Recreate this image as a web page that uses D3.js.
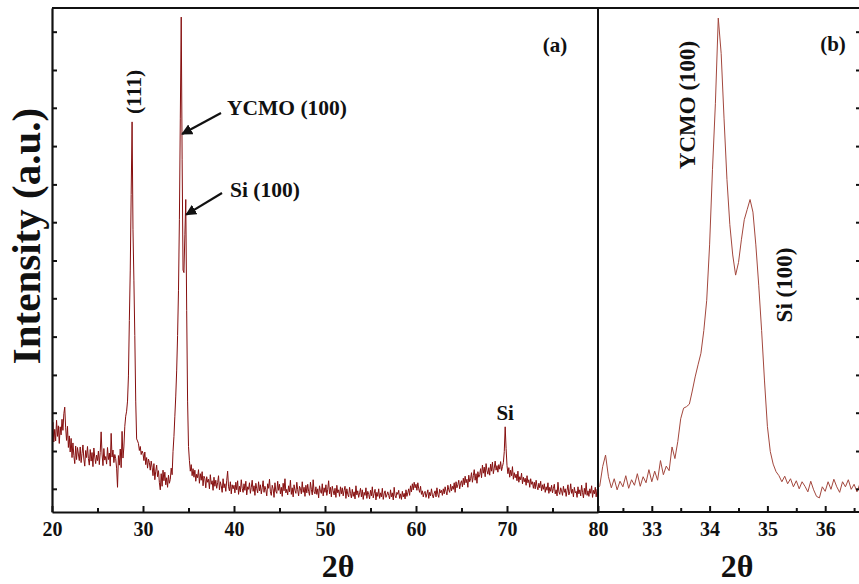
<!DOCTYPE html>
<html>
<head>
<meta charset="utf-8">
<script src="https://cdn.jsdelivr.net/npm/d3@7"></script>
<style>
  body { margin: 0; background: #fff; }
  svg { display: block; }
  text { font-family: "Liberation Serif", "Times New Roman", serif; font-weight: bold; fill: #111; }
</style>
</head>
<body>
<div id="chart"></div>
<script>
'use strict';

// panel (a): full scan, 2theta 20..80 every 0.1 deg
var scanAStart = 20, scanAStep = 0.1;
var scanACounts = [
  15.2, 17.8, 13.9, 16.4, 14.1, 18.2, 15.0, 17.1, 13.6, 16.9,
  15.3, 18.4, 16.2, 19.5, 20.8, 16.7, 14.2, 17.0, 12.8, 15.1,
  11.9, 14.6, 10.8, 13.7, 11.2, 9.6, 13.1, 10.4, 12.8, 11.5,
  10.2, 12.9, 9.8, 11.6, 13.3, 10.5, 9.1, 12.2, 10.8, 13.0,
  10.6, 9.3, 12.4, 10.1, 11.8, 9.0, 12.7, 10.9, 9.6, 11.3,
  10.2, 12.1, 9.4, 11.8, 15.9, 11.5, 9.2, 12.6, 10.3, 11.0,
  9.5, 12.8, 10.4, 11.7, 9.1, 15.6, 10.9, 12.3, 9.8, 11.4,
  10.6, 8.7, 4.9, 11.2, 9.3, 12.5, 8.8, 16.0, 10.7, 12.9,
  17.0, 19.0, 20.0, 22.0, 27.0, 38.0, 48.0, 63.0, 77.4, 56.0,
  46.0, 35.0, 22.0, 14.5, 14.1, 13.6, 12.2, 13.0, 11.4, 12.1,
  11.6, 10.2, 11.9, 9.4, 10.8, 8.7, 10.5, 9.8, 8.3, 10.1,
  8.9, 7.2, 9.6, 6.4, 8.1, 9.3, 7.0, 8.2, 5.8, 4.4,
  7.6, 5.1, 8.3, 6.2, 7.9, 5.4, 6.8, 4.9, 7.3, 5.7,
  6.5, 8.7, 7.4, 12.0, 15.0, 19.0, 23.0, 28.0, 35.0, 44.0,
  58.0, 78.0, 98.2, 70.0, 48.0, 47.5, 55.0, 62.0, 40.0, 22.0,
  13.0, 10.2, 8.1, 9.4, 7.2, 8.6, 6.9, 8.3, 6.1, 7.5,
  6.8, 8.4, 5.7, 7.6, 6.3, 8.0, 5.2, 7.1, 6.6, 4.8,
  7.0, 5.9, 6.5, 4.6, 7.4, 5.5, 6.2, 4.3, 6.9, 5.1,
  6.3, 4.7, 5.8, 7.2, 4.4, 6.0, 5.2, 3.9, 6.6, 4.8,
  5.6, 4.1, 6.3, 8.1, 5.0, 4.2, 6.0, 3.6, 5.4, 4.6,
  5.3, 3.8, 5.9, 4.4, 6.2, 3.5, 5.1, 4.0, 6.4, 4.7,
  3.9, 5.6, 4.3, 6.1, 3.4, 5.0, 4.5, 5.8, 3.7, 4.9,
  6.3, 4.1, 5.2, 3.3, 5.7, 4.6, 3.8, 6.0, 4.2, 5.4,
  3.6, 4.8, 6.2, 3.9, 5.1, 4.4, 3.2, 5.6, 4.7, 6.5,
  4.0, 3.3, 5.3, 4.6, 2.9, 5.8, 4.1, 3.7, 6.1, 4.3,
  5.5, 3.6, 4.9, 3.1, 5.7, 4.2, 6.6, 3.8, 4.5, 3.4,
  5.2, 4.0, 6.3, 3.5, 4.8, 3.0, 5.4, 4.3, 3.7, 5.9,
  4.4, 3.2, 5.1, 4.7, 3.6, 6.0, 3.9, 4.9, 3.1, 5.3,
  3.8, 5.5, 4.1, 3.3, 5.9, 4.5, 3.4, 6.4, 4.0, 3.6,
  5.0, 3.5, 4.6, 2.8, 5.2, 4.1, 3.7, 5.6, 3.2, 4.8,
  3.9, 5.4, 3.3, 4.5, 6.2, 3.6, 4.9, 3.0, 5.1, 4.2,
  3.4, 4.7, 2.9, 5.3, 3.8, 4.4, 3.1, 5.0, 3.6, 4.8,
  3.2, 4.3, 5.1, 2.7, 4.6, 3.5, 3.0, 4.9, 3.7, 2.8,
  4.5, 3.1, 4.0, 2.6, 5.2, 3.4, 4.2, 2.9, 3.8, 4.7,
  3.0, 4.4, 2.5, 3.9, 3.3, 4.8, 2.7, 4.1, 3.5, 2.6,
  4.3, 3.2, 5.0, 2.8, 3.7, 4.5, 2.4, 3.9, 3.1, 4.6,
  2.7, 3.8, 3.0, 4.7, 2.5, 3.6, 4.2, 2.9, 3.4, 4.0,
  3.3, 2.6, 4.4, 3.0, 3.8, 2.4, 4.9, 3.2, 2.8, 3.9,
  3.5, 4.3, 2.7, 3.6, 2.5, 4.1, 3.0, 3.7, 2.6, 4.4,
  3.1, 3.8, 4.6, 3.3, 5.2, 4.0, 5.6, 4.4, 5.9, 4.8,
  5.5, 4.3, 5.8, 4.6, 3.9, 5.1, 3.5, 4.2, 3.0, 3.8,
  4.1, 2.9, 3.6, 4.4, 2.7, 3.9, 3.2, 4.6, 3.4, 2.8,
  3.7, 4.2, 3.0, 4.8, 3.5, 2.9, 4.5, 3.8, 4.3, 3.3,
  4.6, 3.6, 5.0, 4.1, 3.4, 5.3, 4.4, 3.9, 5.5, 4.2,
  5.1, 4.5, 5.8, 3.9, 6.0, 4.8, 5.4, 6.3, 4.6, 5.7,
  6.2, 5.0, 6.7, 5.4, 7.1, 5.8, 6.5, 4.9, 7.3, 6.0,
  6.6, 7.8, 5.9, 7.2, 8.4, 6.3, 7.6, 5.7, 8.0, 6.9,
  7.4, 8.6, 6.8, 9.3, 7.7, 8.9, 7.0, 9.6, 8.2, 7.5,
  8.8, 7.3, 9.5, 8.1, 9.9, 7.6, 8.7, 10.1, 8.3, 9.2,
  7.9, 9.4, 8.5, 10.0, 8.2, 9.0, 9.8, 12.0, 16.9, 12.6,
  9.2, 7.6, 8.8, 6.9, 8.3, 7.2, 9.0, 6.5, 7.8, 6.8,
  7.5, 6.2, 8.1, 5.9, 7.0, 6.4, 7.7, 5.6, 6.9, 6.0,
  6.7, 5.3, 7.2, 5.8, 6.4, 4.9, 6.6, 5.5, 6.0, 4.7,
  5.9, 4.6, 6.3, 5.1, 4.4, 5.7, 4.8, 6.1, 4.2, 5.4,
  4.5, 5.6, 3.9, 5.0, 4.3, 5.8, 3.7, 4.9, 4.1, 5.3,
  3.8, 4.7, 5.5, 3.6, 4.4, 3.2, 5.9, 4.0, 3.5, 4.8,
  4.2, 3.3, 5.1, 3.9, 4.6, 3.1, 4.3, 5.4, 3.4, 4.0,
  5.6, 3.7, 4.5, 3.0, 4.9, 3.8, 4.1, 2.9, 5.0, 3.6,
  4.4, 3.2, 5.3, 3.9, 2.8, 4.7, 3.5, 5.8, 3.3, 4.2,
  3.1, 4.6, 3.7, 5.2, 2.9, 4.3, 3.6, 4.9, 3.0, 4.5,
  3.8
];

// panel (b): zoom on 32..37 deg every 0.05 deg
var scanBStart = 32, scanBStep = 0.05;
var scanBCounts = [
  6.0, 4.5, 5.2, 9.0, 11.3, 7.0, 4.8, 6.6, 4.4, 6.1,
  5.0, 7.2, 4.7, 6.4, 5.3, 7.6, 5.1, 7.0, 5.8, 8.4,
  6.0, 8.1, 6.3, 10.2, 7.4, 9.1, 8.2, 12.9, 10.6, 14.0,
  18.5, 20.6, 20.9, 21.4, 24.0, 26.8, 29.2, 31.5, 36.0, 42.0,
  53.0, 68.0, 81.0, 98.0, 91.0, 78.0, 66.0, 57.0, 51.0, 47.0,
  49.5, 54.0, 58.0, 60.0, 62.0, 59.5, 53.0, 45.0, 36.0, 26.0,
  17.0, 12.0, 9.5, 8.0, 7.2, 6.0, 7.1, 5.6, 6.6, 5.0,
  6.2, 4.6, 6.0, 5.1, 4.0, 6.1, 4.4, 3.1, 2.8, 5.0,
  4.1, 6.0, 4.5, 6.5, 5.0, 3.9, 6.0, 5.0, 6.4, 4.5,
  5.5, 4.0, 5.6, 6.1, 4.5, 5.4, 4.1, 6.0, 5.0, 5.6,
  4.5
];

var ticksA = [20, 30, 40, 50, 60, 70, 80];
var minorA = [25, 35, 45, 55, 65, 75];
var ticksB = [33, 34, 35, 36];
var minorB = [32.5, 33.5, 34.5, 35.5, 36.5];
var yTicks = [4.6, 12.1, 19.7, 27.2, 34.8, 42.4, 49.9, 57.5, 65.0, 72.6, 80.2, 87.7, 95.3];

(function() {
  function toPoints(start, step, counts) {
    return counts.map(function(c, i) { return [+(start + i * step).toFixed(3), c]; });
  }
  var pointsA = toPoints(scanAStart, scanAStep, scanACounts);
  var pointsB = toPoints(scanBStart, scanBStep, scanBCounts);

  var W = 859, H = 584;
  var padL = 52, split = 598, padT = 8, padB = 512;

  var xA = d3.scaleLinear().domain([20, 80]).range([padL, split]);
  var xB = d3.scaleLinear().domain([32, 37]).range([594, 883]);
  var y = d3.scaleLinear().domain([0, 100]).range([padB, padT]);

  var svg = d3.select('#chart').append('svg').attr('width', W).attr('height', H);

  var defs = svg.append('defs');
  defs.append('clipPath').attr('id', 'clipA').append('rect')
    .attr('x', padL).attr('y', padT).attr('width', split - padL).attr('height', padB - padT);
  defs.append('clipPath').attr('id', 'clipB').append('rect')
    .attr('x', split).attr('y', padT).attr('width', 300).attr('height', padB - padT);
  defs.append('marker').attr('id', 'arrow')
    .attr('viewBox', '0 0 10 10').attr('refX', 9).attr('refY', 5)
    .attr('markerWidth', 5).attr('markerHeight', 5).attr('orient', 'auto')
    .append('path').attr('d', 'M0,0 L10,5 L0,10 z').attr('fill', '#111');

  // curves
  var lineA = d3.line().x(function(d) { return xA(d[0]); }).y(function(d) { return y(d[1]); });
  var lineB = d3.line().x(function(d) { return xB(d[0]); }).y(function(d) { return y(d[1]); });

  svg.append('path').datum(pointsA)
    .attr('clip-path', 'url(#clipA)')
    .attr('d', lineA).attr('fill', 'none')
    .attr('stroke', '#860f0f').attr('stroke-width', 1);

  svg.append('path').datum(pointsB)
    .attr('clip-path', 'url(#clipB)')
    .attr('d', lineB).attr('fill', 'none')
    .attr('stroke', '#a3473d').attr('stroke-width', 1);

  // axes
  function styleAxis(g, w) {
    g.select('.domain').attr('stroke', '#111').attr('stroke-width', w);
    g.selectAll('.tick line').attr('stroke', '#111').attr('stroke-width', 2);
    g.selectAll('.tick text').attr('font-size', 20).attr('fill', '#111')
      .style('font-family', '"Liberation Serif", serif').style('font-weight', 'bold');
  }

  var gxA = svg.append('g').attr('transform', 'translate(0,' + padB + ')')
    .call(d3.axisBottom(xA).tickValues(ticksA).tickSize(-6).tickSizeOuter(0).tickPadding(10).tickFormat(d3.format('d')));
  styleAxis(gxA, 2.2);
  var gxAm = svg.append('g').attr('transform', 'translate(0,' + padB + ')')
    .call(d3.axisBottom(xA).tickValues(minorA).tickSize(-4).tickSizeOuter(0).tickFormat(''));
  styleAxis(gxAm, 0);

  var gxB = svg.append('g').attr('transform', 'translate(0,' + padB + ')')
    .call(d3.axisBottom(xB).tickValues(ticksB).tickSize(-6).tickSizeOuter(0).tickPadding(10).tickFormat(d3.format('d')));
  styleAxis(gxB, 0);
  var gxBm = svg.append('g').attr('transform', 'translate(0,' + padB + ')')
    .call(d3.axisBottom(xB).tickValues(minorB).tickSize(-4).tickSizeOuter(0).tickFormat(''));
  styleAxis(gxBm, 0);

  svg.append('line').attr('x1', split).attr('x2', W).attr('y1', padB).attr('y2', padB)
    .attr('stroke', '#111').attr('stroke-width', 2.2);

  var gy = svg.append('g').attr('transform', 'translate(' + padL + ',0)')
    .call(d3.axisLeft(y).tickValues(yTicks).tickSize(-5).tickSizeOuter(0).tickFormat(''));
  styleAxis(gy, 2.2);

  var gyR = svg.append('g').attr('transform', 'translate(861,0)')
    .call(d3.axisRight(y).tickValues(yTicks).tickSize(-5).tickSizeOuter(0).tickFormat(''));
  styleAxis(gyR, 2);

  // frame: top edge and the split between panels
  svg.append('line').attr('x1', padL).attr('x2', W).attr('y1', padT).attr('y2', padT)
    .attr('stroke', '#111').attr('stroke-width', 2);
  svg.append('line').attr('x1', split).attr('x2', split).attr('y1', padT).attr('y2', padB)
    .attr('stroke', '#111').attr('stroke-width', 2);

  // titles
  svg.append('text').attr('transform', 'translate(40,236) rotate(-90)')
    .attr('text-anchor', 'middle').attr('font-size', 41).text('Intensity (a.u.)');
  svg.append('text').attr('x', 338).attr('y', 577).attr('text-anchor', 'middle')
    .attr('font-size', 32).text('2\u03b8');
  svg.append('text').attr('x', 737).attr('y', 577).attr('text-anchor', 'middle')
    .attr('font-size', 32).text('2\u03b8');

  svg.append('text').attr('x', 555).attr('y', 52).attr('text-anchor', 'middle').attr('font-size', 21).text('(a)');
  svg.append('text').attr('x', 833).attr('y', 51).attr('text-anchor', 'middle').attr('font-size', 21).text('(b)');

  // peak labels, panel (a)
  svg.append('text').attr('transform', 'translate(' + (xA(28.8) + 9) + ',92) rotate(-90)')
    .attr('text-anchor', 'middle').attr('font-size', 21.5).text('(111)');

  svg.append('text').attr('x', 227).attr('y', 115).attr('font-size', 21.5).text('YCMO (100)');
  svg.append('line')
    .attr('x1', 221).attr('y1', 113).attr('x2', xA(34.3)).attr('y2', y(75))
    .attr('stroke', '#111').attr('stroke-width', 2.2).attr('marker-end', 'url(#arrow)');

  svg.append('text').attr('x', 230).attr('y', 197).attr('font-size', 21.5).text('Si (100)');
  svg.append('line')
    .attr('x1', 222).attr('y1', 193).attr('x2', xA(34.75)).attr('y2', y(59))
    .attr('stroke', '#111').attr('stroke-width', 2.2).attr('marker-end', 'url(#arrow)');

  svg.append('text').attr('x', xA(69.8)).attr('y', 420).attr('text-anchor', 'middle')
    .attr('font-size', 21).text('Si');

  // peak labels, panel (b)
  svg.append('text').attr('transform', 'translate(695,105) rotate(-90)')
    .attr('text-anchor', 'middle').attr('font-size', 23).text('YCMO (100)');
  svg.append('text').attr('transform', 'translate(792,285) rotate(-90)')
    .attr('text-anchor', 'middle').attr('font-size', 23).text('Si (100)');
})();
</script>
</body>
</html>
